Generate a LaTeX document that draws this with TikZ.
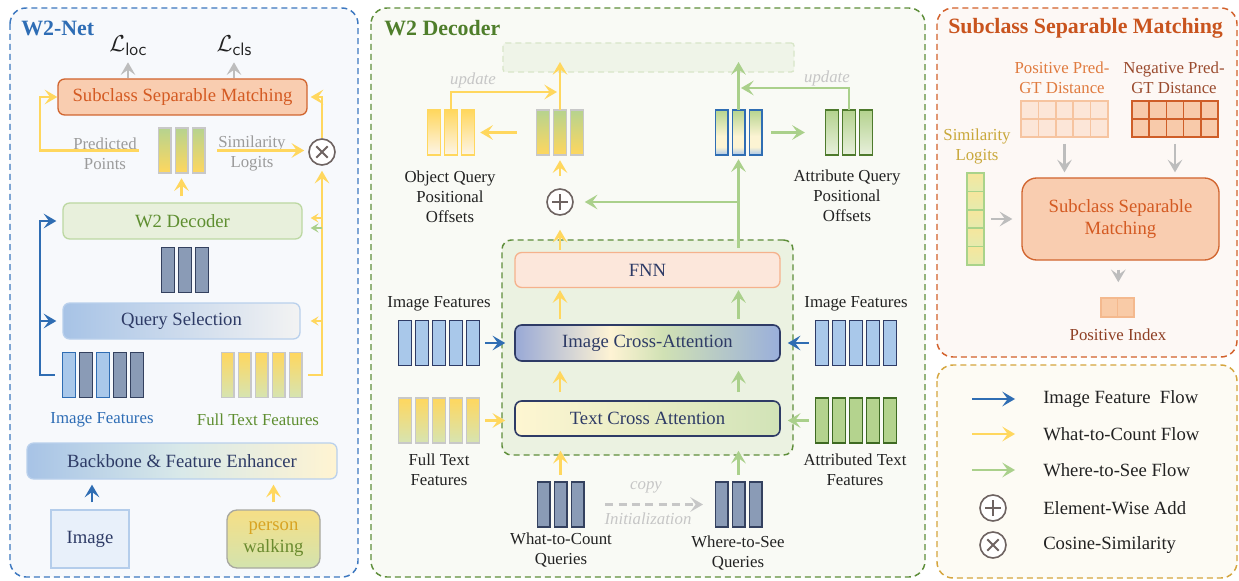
\documentclass[tikz,border=0pt]{standalone}
\usepackage{fontspec}
\setmainfont{Liberation Serif}
\usetikzlibrary{arrows.meta,calc}

\definecolor{navy}{HTML}{2E3B66}
\definecolor{dtext}{HTML}{222222}
\definecolor{lgray}{HTML}{9B9B9B}
\definecolor{updgray}{HTML}{C6C6C6}
\definecolor{cblue}{HTML}{2F6DB3}
\definecolor{cyel}{HTML}{FFD75E}
\definecolor{cgreen}{HTML}{AAD08B}
\definecolor{cgray}{HTML}{BDBDBD}
\definecolor{ltblue}{HTML}{A9C8EA}
\definecolor{qgray}{HTML}{8A9BB6}
\definecolor{qline}{HTML}{34415F}
\definecolor{bargray}{HTML}{C8C8C8}
\definecolor{ftbot}{HTML}{D6E4B2}
\definecolor{pgtop}{HTML}{B6D38F}
\definecolor{obot}{HTML}{FDF5E8}
\definecolor{mxtop}{HTML}{B6D48F}
\definecolor{mxmid}{HTML}{FCF4D3}
\definecolor{mxbot}{HTML}{A8C5EA}
\definecolor{abtop}{HTML}{B4D28E}
\definecolor{abbot}{HTML}{E8F0DC}
\definecolor{abline}{HTML}{4E7A2C}
\definecolor{atfill}{HTML}{B4D38E}
\definecolor{atline}{HTML}{3E6A22}
\definecolor{orfill}{HTML}{F9CDB0}
\definecolor{orline}{HTML}{D1652F}
\definecolor{ortext}{HTML}{D45A22}
\definecolor{w2fill}{HTML}{E8F0DC}
\definecolor{w2line}{HTML}{BCD8A2}
\definecolor{w2text}{HTML}{5E8E30}
\definecolor{qsA}{HTML}{A7C3E6}
\definecolor{qsB}{HTML}{F3F3F3}
\definecolor{qsline}{HTML}{B9D0EC}
\definecolor{bbA}{HTML}{A7C3E6}
\definecolor{bbB}{HTML}{D9E9E9}
\definecolor{bbC}{HTML}{FFF4D2}
\definecolor{imgfill}{HTML}{E8F0FA}
\definecolor{imgline}{HTML}{B4CDEB}
\definecolor{pwA}{HTML}{F6DF86}
\definecolor{pwB}{HTML}{D3E3AE}
\definecolor{pwline}{HTML}{A8A8A0}
\definecolor{pwtA}{HTML}{D8A423}
\definecolor{pwtB}{HTML}{6A8A2E}
\definecolor{p1line}{HTML}{3D78C0}
\definecolor{p1fill}{HTML}{F7F9FC}
\definecolor{p1title}{HTML}{2E6DB5}
\definecolor{p2line}{HTML}{5E8E3A}
\definecolor{p2fill}{HTML}{F9FAF5}
\definecolor{p2title}{HTML}{4F7E2B}
\definecolor{p3line}{HTML}{D2602A}
\definecolor{p3fill}{HTML}{FDF8F5}
\definecolor{p3title}{HTML}{C9541E}
\definecolor{p4line}{HTML}{D5A53E}
\definecolor{p4fill}{HTML}{FDFBF4}
\definecolor{topfill}{HTML}{EFF4E8}
\definecolor{topline}{HTML}{D8E6C8}
\definecolor{layfill}{HTML}{EBF2E1}
\definecolor{fnnfill}{HTML}{FCE7DB}
\definecolor{fnnline}{HTML}{F5B28C}
\definecolor{icaA}{HTML}{99A9D6}
\definecolor{icaB}{HTML}{FEF3D4}
\definecolor{icaC}{HTML}{D0E1B4}
\definecolor{icaD}{HTML}{9AAFDB}
\definecolor{tcaA}{HTML}{FEF6D2}
\definecolor{tcaB}{HTML}{D1E3B7}
\definecolor{posfill}{HTML}{FCE6D8}
\definecolor{posline}{HTML}{F6C4A0}
\definecolor{posT}{HTML}{E07B3F}
\definecolor{negfill}{HTML}{F8CAAA}
\definecolor{negline}{HTML}{CF5E28}
\definecolor{negT}{HTML}{9A4B2E}
\definecolor{simT}{HTML}{C9A83B}
\definecolor{simA}{HTML}{F6E69C}
\definecolor{simB}{HTML}{E5EBAE}
\definecolor{simline}{HTML}{A9D38A}
\definecolor{pifill}{HTML}{F9CBA7}
\definecolor{piline}{HTML}{F4B98E}
\definecolor{piT}{HTML}{8E3F24}
\definecolor{opline}{HTML}{6E6361}

\pgfdeclarehorizontalshading{icashade}{100bp}{color(0bp)=(icaA); color(25bp)=(icaA); color(43bp)=(icaB); color(53bp)=(icaC); color(75bp)=(icaD); color(100bp)=(icaD)}
\pgfdeclareverticalshading{mixshade}{100bp}{color(0bp)=(mxbot); color(25bp)=(mxbot); color(34bp)=(mxmid); color(46bp)=(mxmid); color(75bp)=(mxtop); color(100bp)=(mxtop)}

\tikzset{
    flowtip/.tip={Stealth[length=9.5pt,width=11pt,inset=4pt]},
    stubtip/.tip={Stealth[length=6pt,width=7pt,inset=2.5pt]},
    yarr/.style={draw=cyel, line width=2pt, -{flowtip}},
    garr/.style={draw=cgreen, line width=2pt, -{flowtip}},
    barr/.style={draw=cblue, line width=1.6pt, -{flowtip}},
    grarr/.style={draw=cgray, line width=2pt, -{flowtip}},
    cpyarr/.style={draw=cgray!85, line width=1.6pt, dash pattern=on 6pt off 4pt, -{flowtip}},
    panel/.style={dash pattern=on 4.5pt off 3pt, line width=1.1pt, rounded corners=12pt},
    ttl/.style={font=\fontsize{16.4}{20}\selectfont\bfseries, inner sep=0pt, anchor=west},
    lbl/.style={font=\fontsize{12.6}{15}\selectfont, align=center, inner sep=0pt, text=dtext},
    upd/.style={font=\fontsize{12.6}{15}\selectfont\itshape, text=updgray, inner sep=0pt},
    lgtxt/.style={font=\fontsize{14}{17}\selectfont, anchor=west, inner sep=0pt, text=dtext},
    blk/.style={rectangle, rounded corners=5pt, minimum height=27pt, inner sep=0pt, line width=1pt, font=\fontsize{14}{17}\selectfont, align=center},
    bar/.style={rectangle, minimum width=9.4pt, minimum height=33.75pt, inner sep=0pt, line width=1.1pt},
    grp/.style={rectangle, inner sep=0pt, minimum height=33.75pt},
    ibar/.style={bar, fill=ltblue, draw=navy},
    lbar/.style={bar, fill=ltblue, draw=cblue},
    qbar/.style={bar, fill=qgray, draw=qline},
    ftbar/.style={bar, top color=cyel, bottom color=ftbot, draw=bargray},
    pbar/.style={bar, top color=pgtop, bottom color=cyel, draw=bargray},
    obar/.style={bar, top color=cyel, bottom color=obot, draw=cyel},
    mxbar/.style={bar, shading=mixshade, draw=cblue},
    abar/.style={bar, top color=abtop, bottom color=abbot, draw=abline},
    atbar/.style={bar, fill=atfill, draw=atline},
    poscell/.style={rectangle, minimum width=13.05pt, minimum height=13.5pt, inner sep=0pt, fill=posfill, draw=posline, line width=1.3pt},
    negcell/.style={rectangle, minimum width=12.9pt, minimum height=13.5pt, inner sep=0pt, fill=negfill, draw=negline, line width=1.3pt},
    simcell/.style={rectangle, minimum width=12.75pt, minimum height=13.8pt, inner sep=0pt, top color=simA, bottom color=simB, draw=simline, line width=1.2pt},
    picell/.style={rectangle, minimum width=12.4pt, minimum height=14.25pt, inner sep=0pt, fill=pifill, draw=piline, line width=1.2pt},
    oplus/.style={circle, draw=opline, fill=white, line width=1.2pt, minimum size=19.5pt, inner sep=0pt,
        path picture={\draw[opline, line width=1.4pt]
            ([xshift=-6pt]path picture bounding box.center) -- ([xshift=6pt]path picture bounding box.center)
            ([yshift=-6pt]path picture bounding box.center) -- ([yshift=6pt]path picture bounding box.center);}},
    otimes/.style={circle, draw=opline, fill=white, line width=1.2pt, minimum size=19.5pt, inner sep=0pt,
        path picture={\draw[opline, line width=1.4pt]
            ([shift={(-4.3pt,-4.3pt)}]path picture bounding box.center) -- ([shift={(4.3pt,4.3pt)}]path picture bounding box.center)
            ([shift={(-4.3pt,4.3pt)}]path picture bounding box.center) -- ([shift={(4.3pt,-4.3pt)}]path picture bounding box.center);}}
}

\newcommand{\featbars}[5]{%
    \node[grp, minimum width={((#2-1)*17+12.5)*0.75pt}] (#1) at (#3,#4) {};
    \foreach \k in {1,...,#2}
        \node[#5] (#1-\k) at ({#3+(\k-(#2+1)/2)*17},#4) {};
}

\begin{document}
\begin{tikzpicture}[x=0.75pt, y=-0.75pt]
    \useasboundingbox (0,0) rectangle (1239,581);
    \fill[white] (0,0) rectangle (1239,581);

    \draw[panel, draw=p1line, fill=p1fill] (10,8) rectangle (358,577);
    \node[ttl, text=p1title] (t1) at (21,28) {W2-Net};
    \node[lbl, font=\fontsize{17}{20}\selectfont] (lloc) at (128,46) {$\mathcal{L}$\raisebox{-0.35ex}{\sffamily\fontsize{13.5}{15}\selectfont loc}};
    \node[lbl, font=\fontsize{17}{20}\selectfont] (lcls) at (234,46) {$\mathcal{L}$\raisebox{-0.35ex}{\sffamily\fontsize{13.5}{15}\selectfont cls}};
    \node[blk, fill=orfill, draw=orline, text=ortext, minimum width=186.75pt] (ssm1) at (182.5,97) {Subclass Separable Matching};
    \draw[grarr] (ssm1.north -| lloc) -- ++(0,-16);
    \draw[grarr] (ssm1.north -| lcls) -- ++(0,-16);
    \featbars{pb}{3}{181.5}{150.5}{pbar}
    \node[lbl, text=lgray] (pp) at (105,153.5) {Predicted\\Points};
    \node[lbl, text=lgray] (sl) at (252,153) {Similarity\\Logits};
    \node[otimes] (ot) at (322,152) {};
    \draw[yarr, shorten <=14.25pt] (pb.west) -- ++(-118,0) |- (ssm1.west);
    \draw[yarr, shorten <=9pt, shorten >=3pt] (pb.east) -- (pb.east -| ot.west);
    \draw[yarr, shorten >=2.25pt] (ot.north) |- (ssm1.east);
    \node[blk, fill=w2fill, draw=w2line, text=w2text, minimum width=179.25pt] (w2d) at (182.5,221) {W2 Decoder};
    \draw[yarr, shorten <=4.5pt, shorten >=3.75pt] (pb.south |- w2d.north) -- (pb.south);
    \featbars{qb}{3}{185}{270}{qbar}
    \node[blk, left color=qsA, right color=qsB, draw=qsline, text=navy, minimum width=177.75pt] (qs) at (181.5,321) {Query Selection};
    \node[grp, minimum width=60.2pt] (ib) at (103,375) {};
    \foreach \s [count=\k] in {lbar,qbar,lbar,qbar,qbar}
        \node[\s] (ib-\k) at ({103+(\k-3)*17},375) {};
    \featbars{fb}{5}{261.5}{375}{ftbar}
    \node[lbl, text=p1title] (ibl) at (102,420) {Image Features};
    \node[lbl, text=w2text] (fbl) at (258,420) {Full Text Features};
    \draw[yarr, shorten <=4.5pt, shorten >=3.75pt] (fb.east) -| (ot.south);
    \draw[yarr, -{stubtip}, shorten >=7.5pt] (ot |- qs.east) -- (qs.east);
    \coordinate (ystub) at (322,218);
    \coordinate (gstub) at (322,228);
    \draw[yarr, -{stubtip}, shorten >=6pt] (ystub) -- (ystub -| w2d.east);
    \draw[garr, -{stubtip}, shorten >=6pt] (gstub) -- (gstub -| w2d.east);
    \draw[barr, shorten <=5.8pt, shorten >=4.5pt] (ib.west) -- ++(-23,0) coordinate (bturn) |- (w2d.west);
    \draw[barr, shorten >=4.5pt] (bturn |- qs.west) -- (qs.west);
    \node[blk, left color=bbA, right color=bbC, middle color=bbB, draw=qsline, text=navy, minimum width=232.5pt] (bb) at (182,461) {Backbone \& Feature Enhancer};
    \node[blk, rounded corners=0pt, fill=imgfill, draw=imgline, text=navy, minimum width=58.5pt, minimum height=43.5pt] (img) at (90,539) {Image};
    \node[blk, rounded corners=7.5pt, top color=pwA, bottom color=pwB, draw=pwline, minimum width=69.75pt, minimum height=43.5pt] (pw) at (273.5,539) {\textcolor{pwtA}{person}\\\textcolor{pwtB}{walking}};
    \draw[barr, shorten <=5.25pt, shorten >=3.75pt] (img.north -| 92,0) -- (bb.south -| 92,0);
    \draw[yarr, shorten <=5.25pt, shorten >=3.75pt] (pw.north) -- (pw.north |- bb.south);

    \draw[panel, draw=p2line, fill=p2fill] (371,8) rectangle (925,577);
    \node[ttl, text=p2title] (t2) at (384,28) {W2 Decoder};
    \node[rectangle, minimum width=218.25pt, minimum height=21.75pt, fill=topfill, draw=topline, dash pattern=on 4.5pt off 3pt, line width=1pt, rounded corners=2pt] (out) at (648.5,57.5) {};
    \node[rectangle, minimum width=218.25pt, minimum height=161.25pt, fill=layfill, draw=p2line, dash pattern=on 4.5pt off 3pt, line width=1.1pt, rounded corners=7pt] (lay) at (647.5,347.5) {};
    \node[blk, fill=fnnfill, draw=fnnline, text=navy, minimum width=198.75pt, minimum height=26.25pt] (fnn) at (647.5,270) {FNN};
    \node[blk, shading=icashade, draw=navy, line width=1.2pt, text=navy, minimum width=198.75pt] (ica) at (647.5,343) {Image Cross-Attention};
    \node[blk, left color=tcaA, right color=tcaB, draw=navy, line width=1.2pt, text=navy, minimum width=198.75pt, minimum height=26.25pt] (tca) at (647.5,418.5) {Text Cross Attention};
    \featbars{olb}{3}{451}{132.5}{obar}
    \featbars{mlb}{3}{560}{132.5}{pbar}
    \featbars{mxb}{3}{738.5}{132.5}{mxbar}
    \featbars{atb}{3}{849}{132.5}{abar}
    \node[lbl] (oql) at (450,197) {Object Query\\Positional\\Offsets};
    \node[lbl] (aql) at (847,196) {Attribute Query\\Positional\\Offsets};
    \node[oplus] (op) at (560,202) {};
    \node[upd] (up1) at (473,80) {update};
    \node[upd] (up2) at (827,78) {update};
    \coordinate (yupd) at (557,92);
    \coordinate (gupd) at (741,88);
    \draw[yarr, shorten >=3.4pt] (mlb.north) -- (mlb.north |- out.center);
    \draw[yarr] (olb.north) |- (yupd);
    \draw[yarr, shorten <=14.8pt, shorten >=4.3pt] (mlb.west) -- (olb.east);
    \draw[yarr, shorten <=9pt, shorten >=3.75pt] (op.north) -- (op.north |- mlb.south);
    \draw[yarr, shorten <=1.5pt, shorten >=10.5pt] (fnn.north -| op) -- (op.south);
    \draw[garr, shorten >=3.4pt] (mxb.north) -- (mxb.north |- out.center);
    \draw[garr] (atb.north) |- (gupd);
    \draw[garr, shorten <=7pt, shorten >=15.5pt] (mxb.east) -- (atb.west);
    \draw[garr, shorten <=3pt, shorten >=3pt] (fnn.north -| mxb) -- (mxb.south);
    \draw[garr, shorten >=8.25pt] (op -| mxb) -- (op.east);
    \node[lbl] (lifl) at (439,304) {Image Features};
    \featbars{lif}{5}{439}{343}{ibar}
    \featbars{lft}{5}{439}{420.5}{ftbar}
    \node[lbl] (lftl) at (439,470) {Full Text\\Features};
    \node[lbl] (rifl) at (856,304) {Image Features};
    \featbars{rif}{5}{856}{343}{ibar}
    \featbars{atf}{5}{856}{420.5}{atbar}
    \node[lbl] (atfl) at (855,469.5) {Attributed Text\\Features};
    \draw[barr, shorten <=4.3pt, shorten >=6.75pt] (lif.east) -- (lif.east -| ica.west);
    \draw[yarr, shorten <=4.3pt, shorten >=6.75pt] (lft.east) -- (lft.east -| tca.west);
    \draw[barr, shorten <=5pt, shorten >=5.25pt] (rif.west) -- (rif.west -| ica.east);
    \draw[garr, shorten <=5pt, shorten >=5.25pt] (atf.west) -- (atf.west -| tca.east);
    \draw[yarr, shorten <=6pt, shorten >=6.75pt] (tca.north -| op) -- (ica.south -| op);
    \draw[yarr, shorten <=3.75pt, shorten >=1.5pt] (ica.north -| op) -- (fnn.south -| op);
    \draw[garr, shorten <=6pt, shorten >=6.75pt] (tca.north -| mxb) -- (ica.south -| mxb);
    \draw[garr, shorten <=3.75pt, shorten >=1.5pt] (ica.north -| mxb) -- (fnn.south -| mxb);
    \featbars{wtc}{3}{560.5}{504.5}{qbar}
    \featbars{wts}{3}{738.5}{504.5}{qbar}
    \node[lbl] (wtcl) at (561,550.5) {What-to-Count\\Queries};
    \node[lbl] (wtsl) at (738,553.5) {Where-to-See\\Queries};
    \draw[yarr, shorten <=5.25pt, shorten >=10.5pt] (wtc.north) -- (wtc.north |- tca.south);
    \draw[garr, shorten <=5.25pt, shorten >=10.5pt] (wts.north) -- (wts.north |- tca.south);
    \draw[cpyarr, shorten <=15.9pt, shorten >=9pt] (wtc.east) -- (wts.west);
    \node[upd] (cpy) at (646,487) {copy};
    \node[upd] (ini) at (648,519) {Initialization};

    \draw[panel, draw=p3line, fill=p3fill] (937,8) rectangle (1237,357);
    \node[ttl, text=p3title] (t3) at (948,28) {Subclass Separable Matching};
    \node[lbl, text=posT] (posl) at (1062,77.5) {Positive Pred-\\GT Distance};
    \node[lbl, text=negT] (negl) at (1174,77.5) {Negative Pred-\\GT Distance};
    \foreach \c in {1,...,5}
        \foreach \r in {1,2} {
            \node[poscell] (pg\c\r) at ({1021+17.4*(\c-0.5)},{101+18*(\r-0.5)}) {};
            \node[negcell] (ng\c\r) at ({1132+17.2*(\c-0.5)},{101+18*(\r-0.5)}) {};
        }
    \node[lbl, text=simT] (siml) at (977,146.5) {Similarity\\Logits};
    \foreach \r in {1,...,5}
        \node[simcell] (sc\r) at (975.5,{173+18.4*(\r-0.5)}) {};
    \node[blk, rounded corners=11pt, fill=orfill, draw=orline, text=ortext, minimum width=147.75pt, minimum height=61.5pt] (ssm3) at (1120.5,219) {Subclass Separable\\Matching};
    \draw[grarr, shorten <=4.5pt, shorten >=3.75pt] (pg32.south) -- (pg32.south |- ssm3.north);
    \draw[grarr, shorten <=4.5pt, shorten >=3.75pt] (ng32.south) -- (ng32.south |- ssm3.north);
    \draw[grarr, shorten <=4.5pt, shorten >=6.75pt] (sc3.east) -- (sc3.east -| ssm3.west);
    \foreach \c in {1,2}
        \node[picell] (pi\c) at ({1101+16.5*(\c-0.5)},307.5) {};
    \draw[grarr, shorten <=6.75pt, shorten >=11.25pt] (ssm3.south -| pi1.east) -- (pi1.north east);
    \node[lbl, text=piT] (pil) at (1118,335) {Positive Index};

    \draw[panel, draw=p4line, fill=p4fill] (937,365) rectangle (1237,578);
    \foreach \y/\sty/\txt [count=\k] in {399/barr/{Image Feature\ \ Flow}, 434/yarr/{What-to-Count Flow}, 470/garr/{Where-to-See Flow}} {
        \coordinate (lga\k) at (972,\y);
        \coordinate (lgb\k) at (1015,\y);
        \draw[\sty, line width=2.2pt] (lga\k) -- (lgb\k);
        \node[lgtxt] (lgt\k) at (1043,\y) {\txt};
    }
    \node[oplus] (lgop) at (993,508) {};
    \node[lgtxt] (lgt4) at (1043,508) {Element-Wise Add};
    \node[otimes] (lgot) at (993,545) {};
    \node[lgtxt] (lgt5) at (1043,545) {Cosine-Similarity};
\end{tikzpicture}
\end{document}
